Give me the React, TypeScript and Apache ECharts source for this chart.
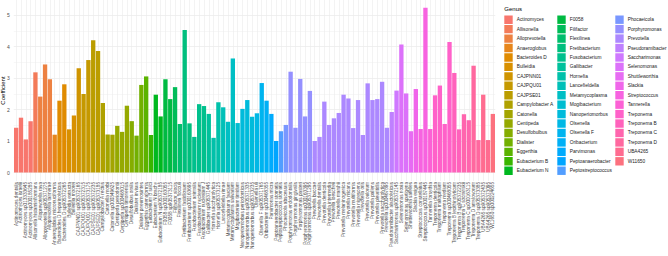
import React, { useEffect, useRef } from "react";
import * as echarts from "echarts";

// ---------- data ----------
const genera = [
  "Actinomyces", "Allisonella", "Alloprevotella", "Anaeroglobus", "Bacteroides D",
  "Bulleidia", "CAJPNN01", "CAJPQU01", "CAJPSE01", "Campylobacter A",
  "Catonella", "Centipeda", "Desulfobulbus", "Dialister", "Eggerthia",
  "Eubacterium B", "Eubacterium N", "F0058", "Filifactor", "Flexilinea",
  "Fretibacterium", "Fusobacterium", "Gallibacter", "Hornefia", "Lancefieldella",
  "Metamycoplasma", "Mogibacterium", "Nanoperiomorbus", "Olsenella", "Olsenella F",
  "Oribacterium", "Parvimonas", "Peptoanaerobacter", "Peptostreptococcus", "Phocaeicola",
  "Porphyromonas", "Prevotella", "Pseudoramibacter", "Saccharimonas", "Selenomonas",
  "Shuttleworthia", "Slackia", "Streptococcus", "Tannerella", "Treponema",
  "Treponema B", "Treponema C", "Treponema D", "UBA4265", "W11650",
];

const species = [
  "Actinomyces dentalis", "Actinomyces israelii", "Actinomyces sp013333645", "Actinomyces sp000185285",
  "Allisonella histaminiformans",
  "Alloprevotella rava", "Alloprevotella sp905371275", "Alloprevotella tannerae",
  "Anaeroglobus micronuciformis",
  "Bacteroides D heparinolyticus", "Bacteroides D sp905372265",
  "Bulleidia extructa", "Bulleidia moorei",
  "CAJPNN01 sp905372165",
  "CAJPQU01 sp905372315", "CAJPQU01 sp905373175",
  "CAJPSE01 sp905372235", "CAJPSE01 sp905373185",
  "Campylobacter A rectus",
  "Catonella morbi", "Catonella sp000349625",
  "Centipeda periodontii", "Centipeda sp000468015", "Centipeda timonensis",
  "Desulfobulbus oralis",
  "Dialister invisus", "Dialister pneumosintes",
  "Eggerthia catenaformis",
  "Eubacterium B sulci",
  "Eubacterium N brachy", "Eubacterium N sp905372185",
  "F0058 sp000163055", "F0058 sp905373115",
  "Filifactor alocis",
  "Flexilinea flocculi",
  "Fretibacterium fastidiosum", "Fretibacterium sp000163695",
  "Fusobacterium animalis", "Fusobacterium nucleatum", "Fusobacterium nucleatum J",
  "Gallibacter sp905371445",
  "Hornefia saccharolytica", "Hornefia sp905373125",
  "Lancefieldella rimae",
  "Metamycoplasma faucium", "Metamycoplasma salivarium",
  "Mogibacterium timidum",
  "Nanoperiomorbus periodonticus", "Nanoperiomorbus sp905371335", "Nanoperiomorbus sp905373235",
  "Olsenella uli",
  "Olsenella F sp905371765",
  "Oribacterium sp000468355",
  "Parvimonas micra",
  "Peptoanaerobacter stomatis",
  "Peptostreptococcus stomatis",
  "Phocaeicola abscessus",
  "Porphyromonas endodontalis", "Porphyromonas gingivalis", "Porphyromonas pasteri",
  "Porphyromonas sp000163395", "Porphyromonas sp905371295",
  "Prevotella buccae", "Prevotella dentalis", "Prevotella denticola", "Prevotella intermedia",
  "Prevotella loescheii", "Prevotella marshii", "Prevotella melaninogenica", "Prevotella micans",
  "Prevotella multiformis", "Prevotella nigrescens", "Prevotella oris", "Prevotella oulorum",
  "Prevotella pallens", "Prevotella pleuritidis", "Prevotella saccharolytica", "Prevotella sp000467895",
  "Pseudoramibacter alactolyticus",
  "Saccharimonas sp905372145",
  "Selenomonas noxia", "Selenomonas sputigena",
  "Shuttleworthia satelles",
  "Slackia exigua",
  "Streptococcus constellatus", "Streptococcus sp000187445",
  "Tannerella forsythia",
  "Treponema denticola", "Treponema maltophilum", "Treponema medium", "Treponema sp000468055",
  "Treponema B lecithinolyticum", "Treponema B sp905372235",
  "Treponema C socranskii", "Treponema C sp000163115",
  "Treponema D amylovorum", "Treponema D sp905373385",
  "UBA4265 sp905372435", "UBA4265 sp905373095",
  "W11650 sp000224655",
];

const coefficients = [
  1.42, 1.74, 1.05, 1.63, 3.18, 2.41, 3.43, 2.96, 1.20, 2.28,
  2.80, 1.37, 1.81, 3.31, 2.49, 3.57, 4.20, 3.86, 2.21, 1.21,
  1.20, 1.48, 1.29, 2.12, 1.63, 1.17, 2.78, 3.05, 1.19, 2.47,
  1.78, 2.96, 2.33, 2.71, 1.54, 4.52, 1.56, 1.13, 2.17, 2.11,
  1.86, 1.10, 2.23, 2.07, 1.61, 3.62, 1.57, 2.02, 2.30, 1.77,
  1.88, 2.84, 2.28, 1.86, 1.00, 1.31, 1.51, 3.20, 1.42, 2.97,
  1.78, 2.59, 1.00, 1.13, 2.25, 1.51, 1.72, 1.89, 2.47, 2.35,
  1.41, 2.30, 1.19, 2.83, 2.30, 2.33, 2.88, 1.42, 1.92, 2.60,
  4.06, 2.51, 1.31, 2.65, 1.38, 5.23, 1.38, 2.45, 2.76, 1.54,
  4.14, 3.16, 1.37, 1.85, 1.66, 3.39, 1.03, 2.47, 1.03, 1.86,
];

const yAxisTitle = "Coefficient";
const legendTitle = "Genus";

// ---------- helpers ----------
function hcl(h: number, c: number, l: number): string {
  const hr = (h * Math.PI) / 180;
  const U = c * Math.cos(hr);
  const V = c * Math.sin(hr);
  const Xn = 95.047, Yn = 100, Zn = 108.883;
  const un = (4 * Xn) / (Xn + 15 * Yn + 3 * Zn);
  const vn = (9 * Yn) / (Xn + 15 * Yn + 3 * Zn);
  const Y = l > 8 ? Yn * Math.pow((l + 16) / 116, 3) : (Yn * l) / 903.3;
  const u = U / (13 * l) + un;
  const v = V / (13 * l) + vn;
  const X = (9 * Y * u) / (4 * v);
  const Z = -X / 3 - 5 * Y + (3 * Y) / v;
  const x = X / 100, y = Y / 100, z = Z / 100;
  const lin = [
    3.240479 * x - 1.53715 * y - 0.498535 * z,
    -0.969256 * x + 1.875992 * y + 0.041556 * z,
    0.055648 * x - 0.204043 * y + 1.057311 * z,
  ];
  const g = lin.map((t) => {
    const s = t <= 0.0031308 ? 12.92 * t : 1.055 * Math.pow(t, 1 / 2.4) - 0.055;
    const k = Math.round(Math.max(0, Math.min(1, s)) * 255);
    return k.toString(16).padStart(2, "0");
  });
  return "#" + g.join("");
}

const genusColors: Record<string, string> = {};
genera.forEach((g, i) => {
  genusColors[g] = hcl(15 + (360 / genera.length) * i, 100, 65);
});

function genusOf(name: string): string {
  let best = "";
  for (const g of genera) {
    if ((name === g || name.startsWith(g + " ")) && g.length > best.length) best = g;
  }
  return best;
}

const FONT = "'Liberation Sans', Arial, Helvetica, sans-serif";

export default function App() {
  const ref = useRef<HTMLDivElement>(null);

  useEffect(() => {
    if (!ref.current) return;
    const chart = echarts.init(ref.current, undefined, { renderer: "svg" });

    const n = species.length;
    const zeroY = 172.5;
    const unit = 31.5;
    const plotLeft = 13.76;
    const pitch = 4.815;
    const panelBottom = 181;

    // legend graphic
    const perCol = Math.ceil(genera.length / 3);
    const colX = [504.3, 557.3, 615.3];
    const row0 = 19.7;
    const rowPitch = 9.44;
    const keySize = 8.4;
    const legendEls: any[] = [
      {
        type: "text",
        x: 504.3,
        y: 9,
        style: {
          text: legendTitle,
          fontSize: 6,
          fontFamily: FONT,
          fill: "#000000",
          align: "left",
          verticalAlign: "middle",
        },
      },
    ];
    genera.forEach((g, i) => {
      const c = Math.floor(i / perCol);
      const r = i % perCol;
      const cy = row0 + r * rowPitch;
      legendEls.push({
        type: "rect",
        shape: { x: colX[c], y: cy - keySize / 2, width: keySize, height: keySize },
        style: { fill: genusColors[g] },
      });
      legendEls.push({
        type: "text",
        x: colX[c] + 12.4,
        y: cy,
        style: {
          text: g,
          fontSize: 4.8,
          fontFamily: FONT,
          fill: "#1A1A1A",
          align: "left",
          verticalAlign: "middle",
        },
      });
    });

    const option: any = {
      animation: false,
      backgroundColor: "#FFFFFF",
      grid: [
        { left: plotLeft, width: pitch * n, top: 0, height: zeroY },
        { left: plotLeft + pitch / 2, width: pitch * (n - 1), top: 0, height: panelBottom },
      ],
      xAxis: [
        {
          type: "category",
          gridIndex: 0,
          data: species,
          axisLine: { show: false },
          axisTick: { show: false },
          splitLine: { show: false },
          axisLabel: {
            rotate: 90,
            interval: 0,
            fontSize: 4.7,
            margin: 9.5,
            color: "#4D4D4D",
            fontFamily: FONT,
          },
        },
        {
          type: "value",
          gridIndex: 1,
          min: 0,
          max: n - 1,
          interval: 1,
          axisLine: { show: false },
          axisTick: { show: false },
          axisLabel: { show: false },
          splitLine: { show: true, lineStyle: { color: "#EBEBEB", width: 0.6 } },
        },
      ],
      yAxis: [
        {
          type: "value",
          gridIndex: 0,
          min: 0,
          max: zeroY / unit,
          interval: 0.5,
          axisLine: { show: false },
          axisTick: { show: false },
          axisLabel: {
            fontSize: 5,
            margin: 4,
            color: "#4D4D4D",
            fontFamily: FONT,
            formatter: (v: number) => (Math.abs(v - Math.round(v)) < 1e-9 ? String(Math.round(v)) : ""),
          },
          splitLine: {
            show: true,
            showMaxLine: false,
            lineStyle: { color: ["#E6E6E6", "#F2F2F2"], width: 0.6 },
          },
        },
        {
          type: "value",
          gridIndex: 1,
          min: 0,
          max: 1,
          show: false,
        },
      ],
      series: [
        {
          type: "bar",
          xAxisIndex: 0,
          yAxisIndex: 0,
          barCategoryGap: "10%",
          data: coefficients.map((v, i) => ({
            value: v,
            itemStyle: { color: genusColors[genusOf(species[i])] },
          })),
        },
      ],
      graphic: [
        {
          type: "text",
          x: 3.3,
          y: 90.5,
          rotation: Math.PI / 2,
          style: {
            text: yAxisTitle,
            fontSize: 6,
            fontFamily: FONT,
            fill: "#000000",
            align: "center",
            verticalAlign: "middle",
          },
        },
        ...legendEls,
      ],
    };

    chart.setOption(option);
    return () => chart.dispose();
  }, []);

  return (
    <div
      ref={ref}
      style={{ position: "fixed", left: 0, top: 0, width: 668, height: 256, background: "#fff" }}
    />
  );
}
